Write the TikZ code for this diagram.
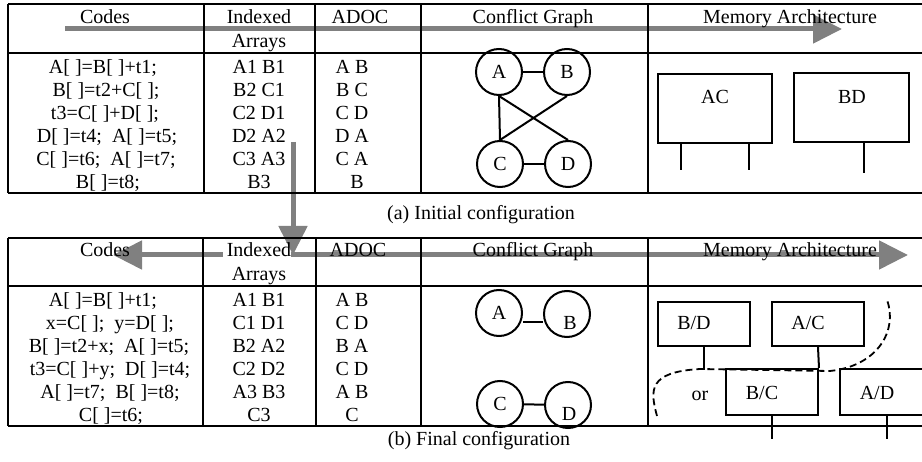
\documentclass[tikz,border=0pt]{standalone}
\usepackage{fontspec}
\setmainfont{Liberation Serif}
\usetikzlibrary{arrows.meta}
\begin{document}
\begin{tikzpicture}[x=1pt,y=-1pt,
  every node/.style={font=\fontsize{20}{23}\selectfont, inner sep=0pt, text height=13pt, text depth=0pt},
  tbl/.style={line width=1.6pt},
  circ/.style={draw, circle, line width=2pt, minimum size=46pt, text height=, text depth=},
  edge/.style={line width=2pt},
  mbox/.style={draw, rectangle, line width=2pt},
  leg/.style={line width=2pt},
  flow/.style={line width=5pt, draw=black!50, -{Triangle[length=29pt,width=28pt]}},
  choice/.style={line width=1.8pt, dash pattern=on 7pt off 4pt}]
\useasboundingbox (0,0) rectangle (922,462);
\clip (0,0) rectangle (922,462);

% ---------- flow arrows (drawn first, under the tables) ----------
\coordinate (f1) at (65,29);
\coordinate (f2) at (842,29);
\coordinate (v1) at (293,142);
\coordinate (v2) at (293,255);
\coordinate (r2) at (908,255);
\coordinate (l1) at (223,255);
\coordinate (l2) at (113,255);
\draw[flow] (f1) -- (f2);
\draw[flow] (v1) -- (v2);
\draw[flow] ([xshift=-2.5pt]v2) -- (r2);
\draw[flow] (l1) -- (l2);

% ---------- table (a) ----------
\foreach \y in {4,53,193} \draw[tbl] (8,\y) -- (930,\y);
\foreach \x in {8,204,315,421,648} \draw[tbl] (\x,4) -- (\x,193);

\node at (105,17) {Codes};
\node at (259,17) {Indexed};
\node at (259,41) {Arrays};
\node at (360,17) {ADOC};
\node at (533,17) {Conflict Graph};
\node at (790,17) {Memory Architecture};

\node at (103,67) {A[ ]=B[ ]+t1;};
\node at (106,90) {B[ ]=t2+C[ ];};
\node at (105,113) {t3=C[ ]+D[ ];};
\node at (107,136) {D[ ]=t4;\ \ A[ ]=t5;};
\node at (106,159) {C[ ]=t6;\ \ A[ ]=t7;};
\node at (108,182) {B[ ]=t8;};

\node at (259,67) {A1 B1};
\node at (259,90) {B2 C1};
\node at (259,113) {C2 D1};
\node at (259,136) {D2 A2};
\node at (259,159) {C3 A3};
\node at (259,182) {B3};

\node at (352,67) {A B};
\node at (352,90) {B C};
\node at (352,113) {C D};
\node at (352,136) {D A};
\node at (352,159) {C A};
\node at (357,182) {B};

% conflict graph (a)
\node[circ] (a1) at (499,72) {A};
\node[circ] (b1) at (567,72) {B};
\node[circ] (c1) at (500,164) {C};
\node[circ] (d1) at (568,164) {D};
\draw[edge] (a1) -- (b1);
\draw[edge] (c1) -- (d1);
\draw[edge] (a1.south) -- (c1.north);
\draw[edge] (a1.south) -- (d1.north);
\draw[edge] (b1.south) -- (c1.north);

% memory architecture (a)
\node[mbox, minimum width=114pt, minimum height=69pt] (ac) at (715,108.5) {};
\node at (715,97) {AC};
\draw[leg] ([xshift=-34pt]ac.south) -- ++(0,26);
\draw[leg] ([xshift=34pt]ac.south) -- ++(0,26);
\node[mbox, minimum width=115pt, minimum height=69pt] (bd) at (851.5,107.5) {};
\node at (852,97) {BD};
\draw[leg] ([xshift=12.5pt]bd.south) -- ++(0,30);

\node at (481,213) {(a) Initial configuration};

% ---------- table (b) ----------
\foreach \y in {238,286,426} \draw[tbl] (8,\y) -- (930,\y);
\foreach \x in {8,203,316,421,648} \draw[tbl] (\x,238) -- (\x,426);

\node at (105,250) {Codes};
\node at (259,250) {Indexed};
\node at (259,274) {Arrays};
\node at (358,250) {ADOC};
\node at (533,250) {Conflict Graph};
\node at (790,250) {Memory Architecture};

\node at (103,300) {A[ ]=B[ ]+t1;};
\node at (110,323) {x=C[ ];\ \ y=D[ ];};
\node at (109,346) {B[ ]=t2+x;\ \ A[ ]=t5;};
\node at (110,369) {t3=C[ ]+y;\ \ D[ ]=t4;};
\node at (110,392) {A[ ]=t7;\ \ B[ ]=t8;};
\node at (111,415) {C[ ]=t6;};

\node at (259,300) {A1 B1};
\node at (259,323) {C1 D1};
\node at (259,346) {B2 A2};
\node at (259,369) {C2 D2};
\node at (259,392) {A3 B3};
\node at (259,415) {C3};

\node at (352,300) {A B};
\node at (352,323) {C D};
\node at (352,346) {B A};
\node at (352,369) {C D};
\node at (352,392) {A B};
\node at (352,415) {C};

% conflict graph (b)
\node[circ] (a2) at (499,313) {A};
\node[circ] (b2) at (567,314) {};
\node at (570,323) {B};
\node[circ] (c2) at (500,404) {C};
\node[circ] (d2) at (568,405) {};
\node at (569,414) {D};
\draw[edge] (a2.east |- 0,322) -- (b2.west |- 0,322);
\draw[edge] (c2) -- (d2);

% memory architecture (b)
\node[mbox, minimum width=92pt, minimum height=44pt] (bd2) at (703.5,324) {};
\node at (694,323) {B/D};
\node[mbox, minimum width=92pt, minimum height=44pt] (ac2) at (818,324) {};
\node at (808,323) {A/C};
\node[mbox, minimum width=92pt, minimum height=46pt] (bc2) at (772,392) {};
\node at (762,393) {B/C};
\node[mbox, minimum width=110pt, minimum height=46pt] (ad2) at (895,392) {};
\node at (877,393) {A/D};
\node at (700,394) {or};
\draw[leg] (bd2.south) -- ++(0,23);
\draw[leg] (ac2.south) -- (bc2.north east);
\draw[leg] (bc2.south) -- ++(0,23);
\draw[leg] (ad2.south -| 887,0) -- ++(0,23);
\draw[choice] (657,416) .. controls (650,390) and (648,372) .. (700,369)
  -- (830,371) .. controls (878,366) and (898,330) .. (887,300);

\node at (479,439) {(b) Final configuration};
\end{tikzpicture}
\end{document}
